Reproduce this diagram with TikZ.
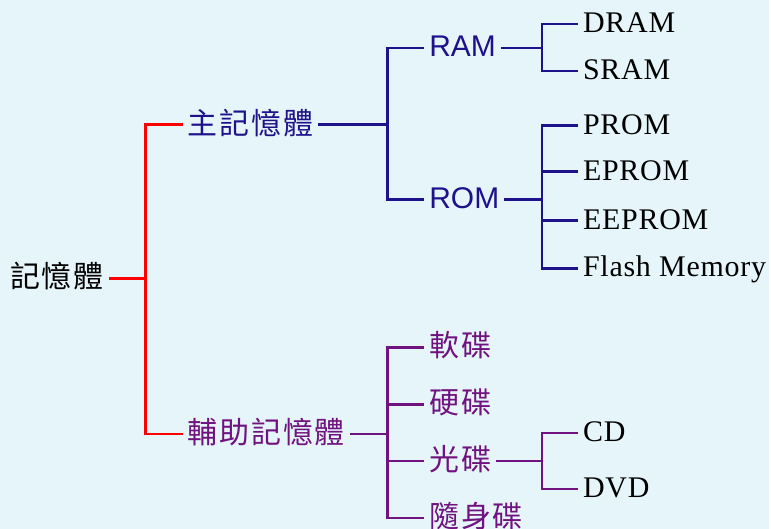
\documentclass[tikz,border=0pt]{standalone}
\usepackage{fontspec}
\setmainfont{Liberation Serif}[LetterSpace=2.5]
\newfontfamily\cjkfont{Noto Sans CJK TC}[LetterSpace=6]
\newfontfamily\arialfont{Liberation Sans}
\definecolor{bgcyan}{RGB}{230,245,249}
\definecolor{memnavy}{RGB}{30,18,140}
\definecolor{auxpurple}{RGB}{112,18,128}
\tikzset{
  hanzi/.style={anchor=west, inner xsep=5pt, inner ysep=0pt, text height=19pt, text depth=0pt,
    font=\cjkfont\fontsize{30}{30}\selectfont},
  sanslabel/.style={anchor=west, inner xsep=5pt, inner ysep=0pt, text height=17.5pt, text depth=0pt,
    font=\arialfont\fontsize{30}{30}\selectfont, text=memnavy},
  leaf/.style={anchor=west, inner xsep=5pt, inner ysep=0pt, text height=17pt, text depth=0pt,
    font=\fontsize{30}{30}\selectfont, text=black},
  rootline/.style={line width=2.6pt, red},
  mainline/.style={line width=2.6pt, memnavy},
  auxline/.style={line width=2.6pt, auxpurple}
}
\begin{document}
\begin{tikzpicture}[x=1pt, y=-1pt]
  \fill[bgcyan] (0,0) rectangle (771,530);

  % root and first split
  \node[hanzi] (root) at (5,279) {記憶體};
  \node[hanzi, text=memnavy] (main) at (183,125) {主記憶體};
  \node[hanzi, text=auxpurple] (aux) at (183,435) {輔助記憶體};
  \coordinate (j0) at (146,279);

  % main memory
  \node[sanslabel] (ram) at (425,48) {RAM};
  \node[sanslabel] (rom) at (425,200) {ROM};
  \coordinate (j1) at (388,125);
  \node[leaf] (dram) at (579,24) {DRAM};
  \node[leaf] (sram) at (579,71) {SRAM};
  \coordinate (j2) at (543,48);
  \node[leaf] (prom) at (579,126) {PROM};
  \node[leaf] (eprom) at (579,172) {EPROM};
  \node[leaf] (eeprom) at (579,221) {EEPROM};
  \node[leaf] (flash) at (579,269) {Flash Memory};
  \coordinate (j3) at (543,200);

  % auxiliary memory
  \node[hanzi, text=auxpurple] (floppy) at (425,348) {軟碟};
  \node[hanzi, text=auxpurple] (hdd) at (425,405) {硬碟};
  \node[hanzi, text=auxpurple] (optical) at (425,462) {光碟};
  \node[hanzi, text=auxpurple] (usb) at (425,519) {隨身碟};
  \coordinate (j4) at (388,435);
  \node[leaf] (cd) at (579,434) {CD};
  \node[leaf] (dvd) at (579,490) {DVD};
  \coordinate (j5) at (543,462);

  \draw[rootline] (root) -- (j0);
  \draw[rootline] (j0) |- (main);
  \draw[rootline] (j0) |- (aux);

  \draw[mainline] (main) -- (j1);
  \draw[mainline] (j1) |- (ram);
  \draw[mainline] (j1) |- (rom);
  \draw[mainline] (ram) -- (j2);
  \draw[mainline] (j2) |- (dram);
  \draw[mainline] (j2) |- (sram);
  \draw[mainline] (rom) -- (j3);
  \draw[mainline] (j3) |- (prom);
  \draw[mainline] (j3) |- (eprom);
  \draw[mainline] (j3) |- (eeprom);
  \draw[mainline] (j3) |- (flash);

  \draw[auxline] (aux) -- (j4);
  \draw[auxline] (j4) |- (floppy);
  \draw[auxline] (j4) |- (hdd);
  \draw[auxline] (j4) |- (optical);
  \draw[auxline] (j4) |- (usb);
  \draw[auxline] (optical) -- (j5);
  \draw[auxline] (j5) |- (cd);
  \draw[auxline] (j5) |- (dvd);
\end{tikzpicture}
\end{document}
